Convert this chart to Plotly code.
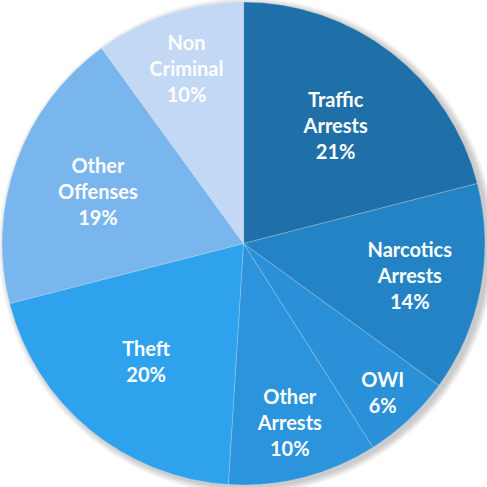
import plotly.graph_objects as go

labels = ["Traffic<br>Arrests", "Narcotics<br>Arrests", "OWI", "Other<br>Arrests",
          "Theft", "Other<br>Offenses", "Non<br>Criminal"]
values = [21, 14, 6, 10, 20, 19, 10]
colors = ["#1F70A9", "#2383C5", "#2A90D8", "#2B94DC", "#2FA2EE", "#79B6EE", "#C2D8F5"]

fig = go.Figure()

# soft shadow rings
cx, cy = 247, 241
for i in range(6):
    r = 243 + (6 - i) * 1.2
    fig.add_shape(type="circle", xref="paper", yref="paper",
                  x0=(cx - r) / 487, x1=(cx + r) / 487,
                  y0=(cy - r) / 487, y1=(cy + r) / 487,
                  fillcolor="rgba(0,0,0,0.035)", line=dict(width=0), layer="below")

fig.add_trace(go.Pie(
    labels=labels, values=values, sort=False, direction="clockwise", rotation=0,
    marker=dict(colors=colors, line=dict(color="rgba(255,255,255,0.35)", width=0.6)),
    texttemplate="%{label}<br>%{value}%", textinfo="text",
    textposition="inside", insidetextorientation="horizontal",
    textfont=dict(family="Lato", size=20, color="white", weight="bold"),
    hoverinfo="skip", showlegend=False,
))

fig.update_layout(width=487, height=487, margin=dict(l=2, r=2, t=2, b=2),
                  paper_bgcolor="white", plot_bgcolor="white",
                  uniformtext=dict(minsize=20, mode="show"))
fig.write_html("out.html", config={"displayModeBar": False, "staticPlot": True},
               post_script="document.body.style.margin='0';document.body.style.padding='0';")
